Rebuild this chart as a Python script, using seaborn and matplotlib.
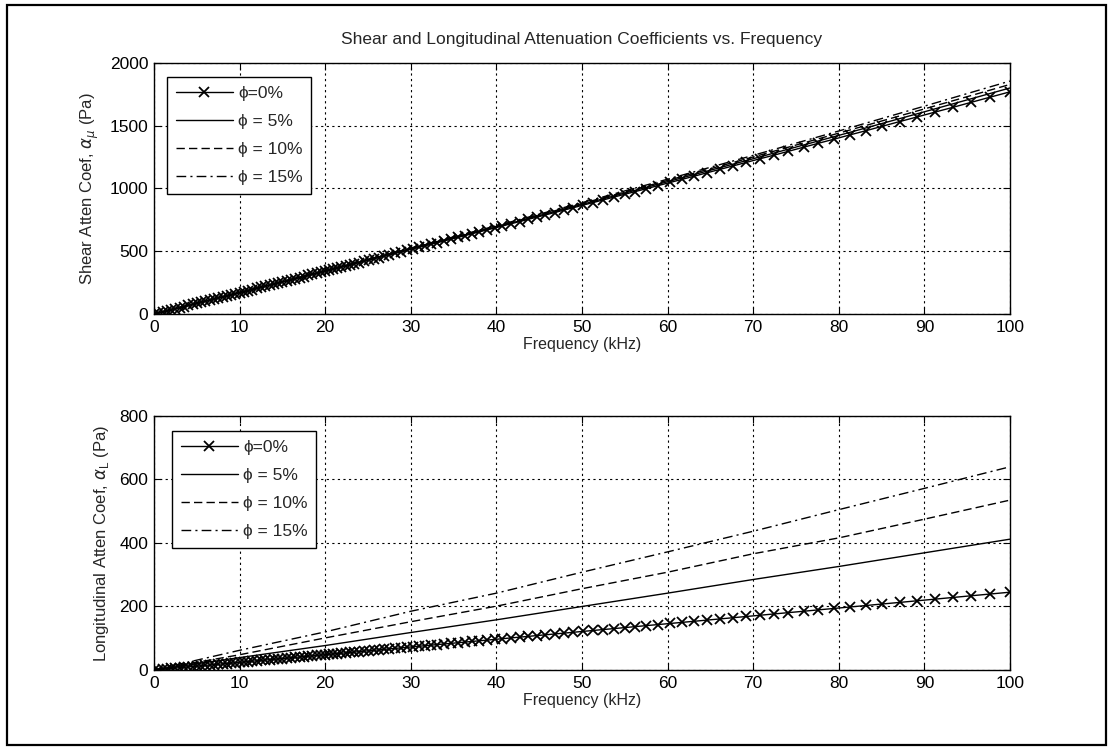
import numpy as np
import pandas as pd
import matplotlib
matplotlib.use("Agg")
import matplotlib.pyplot as plt
import seaborn as sns
from matplotlib.patches import Rectangle

# ---------------- data ----------------
title = "Shear and Longitudinal Attenuation Coefficients vs. Frequency"
labels = ["\u03d5=0%", "\u03d5 = 5%", "\u03d5 = 10%", "\u03d5 = 15%"]

# sample frequencies (kHz) of the phi=0% curve (marker positions)
freq_m = [0, 0.5, 1, 1.5, 2, 2.5, 3, 3.5, 4, 4.5, 5, 5.5, 6, 6.5, 7, 7.5, 8, 8.5, 9, 9.5,
          10, 10.5, 11, 11.5, 12, 12.5, 13, 13.5, 14, 14.5, 15, 15.5, 16, 16.5, 17, 17.5,
          18, 18.5, 19, 19.5, 20, 20.4, 20.9, 21.4, 21.9, 22.4, 22.9, 23.4, 24.0, 24.5,
          25.1, 25.7, 26.3, 26.9, 27.5, 28.2, 28.8, 29.5, 30.2, 30.9, 31.6, 32.4, 33.1,
          33.9, 34.7, 35.5, 36.3, 37.2, 38.0, 38.9, 39.8, 40.7, 41.7, 42.7, 43.7, 44.7,
          45.7, 46.8, 47.9, 49.0, 50.1, 51.3, 52.5, 53.7, 55.0, 56.2, 57.5, 58.9, 60.3,
          61.7, 63.1, 64.6, 66.1, 67.6, 69.2, 70.8, 72.4, 74.1, 75.9, 77.6, 79.4, 81.3,
          83.2, 85.1, 87.1, 89.1, 91.2, 93.3, 95.5, 97.7, 100]

shear_phi0 = [0, 8, 17, 25, 34, 42, 51, 59, 68, 76, 85, 93, 102, 110, 119, 127, 136, 144, 153, 161,
              170, 178, 187, 195, 204, 212, 221, 230, 238, 247, 255, 264, 272, 281, 290, 298,
              307, 315, 324, 333, 341, 348, 357, 365, 374, 383, 391, 400, 410, 419,
              429, 440, 450, 460, 471, 483, 493, 506, 518, 530, 542, 556, 568,
              582, 596, 610, 624, 640, 654, 670, 685, 701, 719, 736, 754, 771,
              789, 808, 828, 847, 867, 888, 909, 931, 954, 975, 998, 1023, 1048,
              1073, 1098, 1125, 1152, 1179, 1208, 1237, 1265, 1296, 1329, 1360, 1392, 1427,
              1461, 1496, 1533, 1569, 1608, 1646, 1687, 1728, 1770]

long_phi0 = [0, 1.2, 2.4, 3.6, 4.8, 6.0, 7.2, 8.4, 9.6, 10.8, 12.0, 13.2, 14.4, 15.6, 16.8, 18.0,
             19.2, 20.4, 21.6, 22.8, 24.1, 25.3, 26.5, 27.7, 28.9, 30.1, 31.3, 32.5, 33.7, 34.9,
             36.1, 37.3, 38.5, 39.7, 40.9, 42.2, 43.4, 44.6, 45.8, 47.0, 48.2, 49.2, 50.4, 51.6,
             52.8, 54.0, 55.2, 56.4, 57.9, 59.1, 60.6, 62.0, 63.5, 64.9, 66.4, 68.1, 69.5, 71.2,
             72.9, 74.6, 76.3, 78.3, 80.0, 81.9, 83.9, 85.8, 87.8, 90.0, 91.9, 94.1, 96.3, 98.5,
             101.0, 103.4, 105.8, 108.3, 110.7, 113.4, 116.1, 118.8, 121.5, 124.4, 127.4, 130.3,
             133.5, 136.5, 139.7, 143.1, 146.5, 150.0, 153.4, 157.1, 160.8, 164.5, 168.5, 172.4,
             176.4, 180.6, 185.0, 189.3, 193.7, 198.4, 203.1, 207.9, 212.8, 217.8, 223.0, 228.3,
             233.8, 239.3, 245.0]

# other porosities, sampled every 10 kHz
freq_k = [0, 10, 20, 30, 40, 50, 60, 70, 80, 90, 100]
shear_phi5 = [0, 170, 342, 521, 694, 873, 1054, 1237, 1423, 1611, 1801]
shear_phi10 = [0, 171, 343, 523, 698, 880, 1064, 1251, 1441, 1634, 1829]
shear_phi15 = [0, 171, 344, 526, 703, 887, 1074, 1264, 1458, 1656, 1856]
long_phi5 = [0, 39, 77, 118, 158, 200, 242, 285, 326, 369, 412]
long_phi10 = [0, 48, 101, 152, 201, 256, 308, 366, 416, 475, 535]
long_phi15 = [0, 62, 120, 185, 242, 308, 372, 437, 505, 572, 640]

# ---------------- style ----------------
sns.set_theme(style="white")
plt.rcParams["font.family"] = ["Liberation Sans", "DejaVu Sans"]
plt.rcParams["mathtext.fontset"] = "custom"
plt.rcParams["mathtext.rm"] = "Liberation Sans"
plt.rcParams["mathtext.it"] = "DejaVu Sans:italic"

fig = plt.figure(figsize=(11.13, 7.49), dpi=100)
fig.patch.set_facecolor("white")
fig.patches.append(Rectangle((0.006, 0.006), 0.988, 0.987, transform=fig.transFigure,
                             fill=False, edgecolor="black", linewidth=1.6))

ax1 = fig.add_axes([0.1384, 0.5808, 0.769, 0.3351])
ax2 = fig.add_axes([0.1384, 0.1055, 0.769, 0.3391])


def draw(ax, y0, y5, y10, y15, ymax, ystep, ylabel, legend_anchor):
    d0 = pd.DataFrame({"f": freq_m, "a": y0})
    dk = pd.DataFrame({"f": freq_k, "a5": y5, "a10": y10, "a15": y15})
    sns.lineplot(data=d0, x="f", y="a", ax=ax, color="black", linewidth=1.0,
                 marker="x", markersize=6.5, markeredgewidth=1.3, markeredgecolor="black",
                 label=labels[0])
    sns.lineplot(data=dk, x="f", y="a5", ax=ax, color="black", linewidth=1.0,
                 linestyle="-", label=labels[1])
    sns.lineplot(data=dk, x="f", y="a10", ax=ax, color="black", linewidth=1.0,
                 linestyle=(0, (6, 3)), label=labels[2])
    sns.lineplot(data=dk, x="f", y="a15", ax=ax, color="black", linewidth=1.0,
                 linestyle=(0, (7, 3, 1.5, 3)), label=labels[3])
    ax.set_xlim(0, 100)
    ax.set_ylim(0, ymax)
    ax.set_xticks(range(0, 101, 10))
    ax.set_yticks(np.arange(0, ymax + 1, ystep))
    ax.grid(True, color="black", linestyle=(0, (2, 3)), linewidth=0.8)
    ax.tick_params(direction="in", length=5, width=0.8, colors="black",
                   labelsize=12.5, top=True, right=True, bottom=True, left=True, pad=4)
    for s in ax.spines.values():
        s.set_color("black")
        s.set_linewidth(1.0)
    ax.set_xlabel("Frequency (kHz)", fontsize=11.5, labelpad=2)
    ax.set_ylabel(ylabel, fontsize=12, labelpad=6)
    leg = ax.legend(loc="upper left", bbox_to_anchor=legend_anchor, fontsize=12.5,
                    frameon=True, fancybox=False, edgecolor="black", framealpha=1,
                    handlelength=3.3, labelspacing=0.75, borderpad=0.5,
                    handletextpad=0.3, borderaxespad=0)
    leg.get_frame().set_linewidth(1.0)


draw(ax1, shear_phi0, shear_phi5, shear_phi10, shear_phi15, 2000, 500,
     r"Shear Atten Coef, $\alpha_{\mu}$ (Pa)", (0.015, 0.945))
draw(ax2, long_phi0, long_phi5, long_phi10, long_phi15, 800, 200,
     r"Longitudinal Atten Coef, $\alpha_{\mathrm{L}}$ (Pa)", (0.021, 0.941))

ax1.set_title(title, fontsize=12.5, pad=14)

fig.savefig("out.png", dpi=100, facecolor="white")
